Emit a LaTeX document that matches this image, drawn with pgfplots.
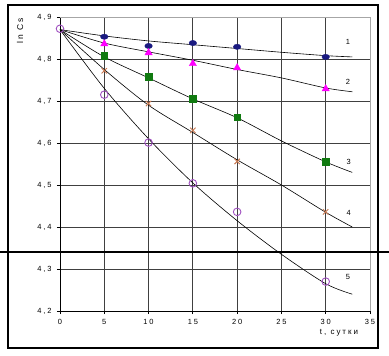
\documentclass[border=0pt]{standalone}
\usepackage{fontspec}
\setmainfont{Liberation Sans}
\newfontfamily\spaced[LetterSpace=25]{Liberation Sans}
\usepackage{pgfplots}
\pgfplotsset{compat=1.18}
\definecolor{navyc}{HTML}{1A1A80}
\definecolor{magc}{HTML}{FF00FF}
\definecolor{grnc}{HTML}{107A10}
\definecolor{orc}{HTML}{C87850}
\definecolor{purc}{HTML}{A050C0}
\definecolor{gridc}{HTML}{404040}
\begin{document}
\begin{tikzpicture}[x=1bp,y=1bp]
\useasboundingbox (-60,-45) rectangle (329,311);
\draw[black, line width=1.2bp] (-52,-37) rectangle (318,306);
\begin{axis}[
  at={(0,0)}, anchor=origin,
  scale only axis, width=310bp, height=294bp,
  xmin=0, xmax=35, ymin=4.2, ymax=4.9,
  xtick={0,5,...,35}, ytick={4.2,4.3,...,4.9},
  axis x line*=bottom, axis y line*=left,
  axis line style={black, line width=0.9bp, -},
  tick align=outside, major tick length=3bp,
  tick style={black, line width=0.9bp},
  grid=major, major grid style={gridc, line width=0.9bp},
  /pgf/number format/.cd, use comma, fixed, fixed zerofill, precision=1, assume math mode=true,
  /pgfplots/.cd,
  xticklabel={\pgfmathprintnumber[precision=0,fixed zerofill=false]{\tick}},
  tick label style={font=\spaced\fontsize{7.5}{8}\selectfont},
  yticklabel style={xshift=-2bp},
  xticklabel style={yshift=-2bp},
  clip=false,
]
\draw[gray!70, line width=0.9bp] (rel axis cs:0,1) -- (rel axis cs:1,1) -- (rel axis cs:1,0);
% fitted curves
\addplot[black, line width=0.6bp, smooth] coordinates {(0,4.87) (5,4.855) (10,4.843) (15,4.834) (20,4.825) (25,4.816) (30,4.808) (33,4.805)};
\addplot[black, line width=0.6bp, smooth] coordinates {(0,4.87) (5,4.838) (10,4.817) (15,4.797) (20,4.775) (25,4.755) (30,4.731) (33,4.722)};
\addplot[black, line width=0.6bp, smooth] coordinates {(0,4.87) (5,4.805) (10,4.755) (15,4.705) (20,4.66) (25,4.605) (30,4.555) (33,4.53)};
\addplot[black, line width=0.6bp, smooth] coordinates {(0,4.87) (5,4.775) (10,4.69) (15,4.625) (20,4.56) (25,4.50) (30,4.435) (33,4.40)};
\addplot[black, line width=0.6bp, smooth] coordinates {(0,4.87) (5,4.73) (10,4.61) (15,4.505) (20,4.415) (25,4.335) (30,4.265) (33,4.24)};
% data points
\addplot[only marks, mark=*, mark size=3.8bp, mark options={navyc, fill=navyc, yscale=0.7}] coordinates {(5,4.853) (10,4.831) (15,4.838) (20,4.829) (30,4.805)};
\addplot[only marks, mark=triangle*, mark size=4.2bp, mark options={magc, fill=magc}] coordinates {(5,4.836) (10,4.815) (15,4.789) (20,4.779) (30,4.729)};
\addplot[only marks, mark=square*, mark size=3.3bp, mark options={grnc, fill=grnc}] coordinates {(5,4.808) (10,4.758) (15,4.706) (20,4.661) (30,4.556)};
\addplot[only marks, mark=x, mark size=3.8bp, mark options={orc, line width=0.9bp}] coordinates {(5,4.772) (10,4.694) (15,4.630) (20,4.556) (30,4.436)};
\addplot[only marks, mark=o, mark size=3.8bp, mark options={purc, line width=0.9bp}] coordinates {(0,4.872) (5,4.715) (10,4.601) (15,4.504) (20,4.436) (30,4.270)};
% curve numbers
\node[font=\fontsize{7.5}{8}\selectfont] at (axis cs:32.5,4.84) {1};
\node[font=\fontsize{7.5}{8}\selectfont] at (axis cs:32.5,4.746) {2};
\node[font=\fontsize{7.5}{8}\selectfont] at (axis cs:32.6,4.556) {3};
\node[font=\fontsize{7.5}{8}\selectfont] at (axis cs:32.6,4.433) {4};
\node[font=\fontsize{7.5}{8}\selectfont] at (axis cs:32.5,4.28) {5};
\end{axis}
\node[rotate=90, font=\spaced\fontsize{8.5}{9}\selectfont] at (-40,280) {ln Cs};
\node[font=\spaced\fontsize{8}{9}\selectfont] at (279,-22) {t, сутки};
\draw[black, line width=2.5bp] (-60,59) -- (262,59);
\draw[black, line width=1.3bp] (262,59) -- (329,59);
\end{tikzpicture}
\end{document}
